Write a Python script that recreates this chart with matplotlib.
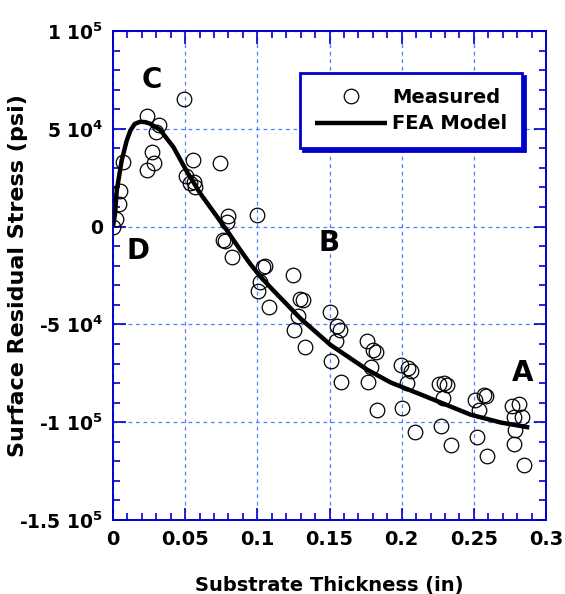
"""Surface residual stress vs substrate thickness: measured points and FEA model."""

import matplotlib
matplotlib.use("Agg")
import matplotlib.pyplot as plt
from matplotlib.ticker import MultipleLocator

plt.rcParams["font.family"] = ["DejaVu Sans"]
plt.rcParams["font.weight"] = "bold"
plt.rcParams["mathtext.fontset"] = "custom"
plt.rcParams["mathtext.rm"] = "DejaVu Sans:bold"
plt.rcParams["mathtext.bf"] = "DejaVu Sans:bold"
plt.rcParams["mathtext.default"] = "bf"

# measured surface residual stress (in, psi)
meas_x = [0.0, 0.0021, 0.0044, 0.0049, 0.0067, 0.0238, 0.0269, 0.0287, 0.0234,
          0.0322, 0.0295, 0.0493, 0.0553, 0.0743, 0.0507, 0.0535, 0.0560, 0.0570,
          0.0796, 0.0789, 0.0759, 0.0775, 0.0824, 0.0998, 0.1056, 0.1040, 0.1248,
          0.1020, 0.1002, 0.1078, 0.1299, 0.1317, 0.1280, 0.1257, 0.1328, 0.1502,
          0.1553, 0.1571, 0.1542, 0.1512, 0.1581, 0.1757, 0.1803, 0.1819, 0.1785,
          0.1766, 0.1831, 0.1995, 0.2005, 0.2067, 0.2045, 0.2035, 0.2090, 0.2259,
          0.2313, 0.2295, 0.2289, 0.2271, 0.2340, 0.2507, 0.2567, 0.2583, 0.2537,
          0.2521, 0.2590, 0.2762, 0.2815, 0.2780, 0.2831, 0.2785, 0.2776, 0.2845]
meas_y = [0, 3900, 11600, 18400, 32900, 29000, 38000, 32400, 56300,
          51700, 48500, 65400, 33800, 32400, 26100, 22200, 23000, 20500,
          5600, 2200, -6800, -7500, -15700, 6000, -20000, -20500, -24700,
          -28500, -33100, -41300, -37000, -37500, -45500, -52900, -61800, -43500,
          -50700, -52900, -58700, -68900, -79700, -58700, -63100, -64300, -71600,
          -79700, -93800, -70800, -92800, -74000, -72500, -80200, -104800, -80500,
          -80900, -80000, -87700, -101900, -111600, -88500, -86100, -86500, -93700,
          -107800, -117400, -91600, -90700, -97600, -97600, -104100, -110900, -121800]

# FEA model curve
fea_x = [0.0, 0.0014, 0.0026, 0.0060, 0.0095, 0.0120, 0.0150, 0.0188, 0.0225,
         0.0257, 0.0326, 0.0419, 0.0505, 0.0604, 0.0790, 0.0882, 0.0950, 0.1020,
         0.1113, 0.1299, 0.1507, 0.1762, 0.1924, 0.2155, 0.2479, 0.2688, 0.2884]
fea_y = [0, 6500, 18400, 33800, 44000, 49000, 52500, 53600, 53400,
         52600, 49500, 40600, 29000, 17000, -2000, -12000, -19000, -25500,
         -32800, -47000, -60500, -73200, -79700, -86500, -96200, -100200, -102700]

y_ticks = [-150000, -100000, -50000, 0, 50000, 100000]
y_tick_labels = ["-1.5 10$^{5}$", "-1 10$^{5}$", "-5 10$^{4}$", "0",
                 "5 10$^{4}$", "1 10$^{5}$"]
x_ticks = [0, 0.05, 0.1, 0.15, 0.2, 0.25, 0.3]
x_tick_labels = ["0", "0.05", "0.1", "0.15", "0.2", "0.25", "0.3"]

# region labels
region_names = ["C", "D", "B", "A"]
region_x = [0.0271, 0.0174, 0.150, 0.284]
region_y = [74700, -12300, -8200, -74700]

AXIS_BLUE = "#0000cc"
GRID_BLUE = "#4f7fff"

fig = plt.figure(figsize=(5.65, 5.94), dpi=100)
ax = fig.add_axes([0.2, 0.1246, 0.7664, 0.8232])

ax.plot(meas_x, meas_y, "o", ms=10.5, mfc="none", mec="black", mew=0.9,
        label="Measured", zorder=3)
ax.plot(fea_x, fea_y, "-", color="black", lw=3.2, label="FEA Model", zorder=4,
        solid_capstyle="butt", solid_joinstyle="round")

for name, tx, ty in zip(region_names, region_x, region_y):
    ax.text(tx, ty, name, fontsize=20, fontweight="bold", ha="center",
            va="center", zorder=5)

ax.set_xlim(0, 0.3)
ax.set_ylim(-150000, 100000)
ax.set_xticks(x_ticks)
ax.set_xticklabels(x_tick_labels)
ax.set_yticks(y_ticks)
ax.set_yticklabels(y_tick_labels)
ax.xaxis.set_minor_locator(MultipleLocator(0.01))
ax.yaxis.set_minor_locator(MultipleLocator(10000))

ax.tick_params(which="both", direction="in", top=True, right=True,
               color=AXIS_BLUE, width=1.2, labelsize=14)
ax.tick_params(which="major", length=9, pad=7)
ax.tick_params(which="minor", length=5)
ax.tick_params(axis="y", which="major", labelsize=13.5)
for lab in ax.get_xticklabels() + ax.get_yticklabels():
    lab.set_fontweight("bold")

for spine in ax.spines.values():
    spine.set_color(AXIS_BLUE)
    spine.set_linewidth(1.4)

ax.grid(True, which="major", color=GRID_BLUE, lw=0.9, ls=(0, (3, 3)))
ax.set_axisbelow(True)

ax.set_xlabel("Substrate Thickness (in)", fontsize=14, fontweight="bold",
              labelpad=20)
ax.set_ylabel("Surface Residual Stress (psi)", fontsize=16, fontweight="bold")
ax.yaxis.set_label_coords(-0.196, 0.5)

leg = ax.legend(loc="upper right", bbox_to_anchor=(0.945, 0.914), fontsize=14,
                frameon=True, fancybox=False, borderaxespad=0,
                handlelength=3.7, handletextpad=0.3, borderpad=0.75,
                labelspacing=0.4,
                shadow={"facecolor": AXIS_BLUE, "edgecolor": AXIS_BLUE,
                        "alpha": 1})
leg.get_frame().set_edgecolor(AXIS_BLUE)
leg.get_frame().set_linewidth(2.0)
leg.get_frame().set_alpha(1)
for t in leg.get_texts():
    t.set_fontweight("bold")

fig.savefig("out.png", dpi=100)
